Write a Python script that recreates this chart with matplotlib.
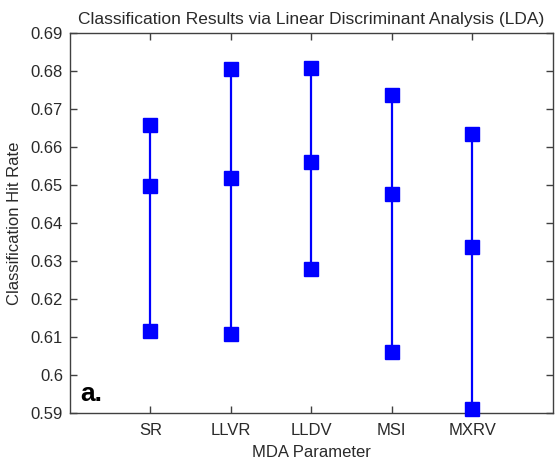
import matplotlib
matplotlib.use("Agg")
import matplotlib.pyplot as plt
import numpy as np

plt.rcParams['font.family'] = ['Liberation Sans', 'DejaVu Sans']

params = ['SR', 'LLVR', 'LLDV', 'MSI', 'MXRV']
low = [0.6117, 0.6108, 0.6278, 0.6061, 0.5912]
mid = [0.6498, 0.6517, 0.6560, 0.6476, 0.6337]
high = [0.6658, 0.6804, 0.6807, 0.6737, 0.6633]
yticks = [0.59, 0.60, 0.61, 0.62, 0.63, 0.64, 0.65, 0.66, 0.67, 0.68, 0.69]

fig = plt.figure(figsize=(5.55, 4.66), dpi=100)
ax = fig.add_axes([0.126, 0.113, 0.870, 0.817])

x = np.arange(1, len(params) + 1)
for xi, lo, md, hi in zip(x, low, mid, high):
    ax.plot([xi, xi, xi], [lo, md, hi], color='#0000ff', lw=1.6,
            marker='s', markersize=9.5, clip_on=False, zorder=3)

ax.set_xlim(0, 6)
ax.set_ylim(0.59, 0.69)
ax.set_xticks(x)
ax.set_xticklabels(params)
ax.set_yticks(yticks)
ax.set_yticklabels(['%g' % v for v in yticks])

grey = '#404040'
txt = '#2a2a2a'
for s in ax.spines.values():
    s.set_color(grey)
    s.set_linewidth(1.0)
ax.tick_params(direction='in', length=5, width=1.0, color=grey,
               top=True, right=True, labelsize=12, labelcolor=txt)
ax.tick_params(axis='x', pad=7)
ax.tick_params(axis='y', pad=5)

ax.set_title('Classification Results via Linear Discriminant Analysis (LDA)',
             fontsize=12.5, color=txt, pad=6)
ax.set_xlabel('MDA Parameter', fontsize=12, color=txt, labelpad=5)
ax.set_ylabel('Classification Hit Rate', fontsize=12, color=txt, labelpad=6)

ax.text(0.021, 0.018, 'a.', transform=ax.transAxes, fontsize=19,
        fontweight='bold', color='black', ha='left', va='bottom')

fig.savefig('out.png', dpi=100)
